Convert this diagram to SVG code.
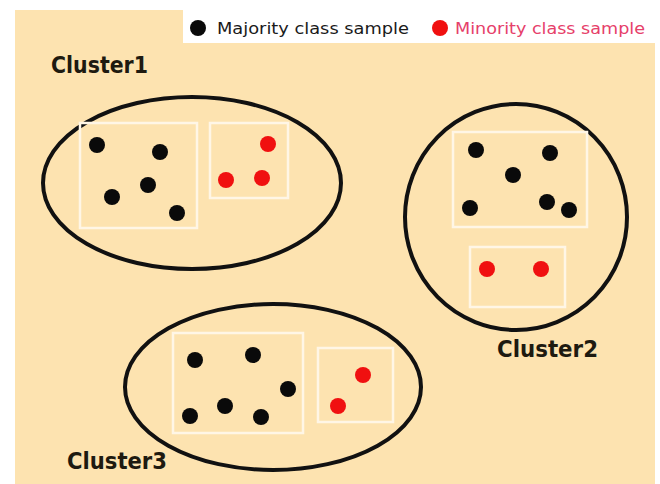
<svg xmlns="http://www.w3.org/2000/svg" width="660" height="484" viewBox="0 0 660 484">
<style>
.bg{fill:#fde3b0}
.cl{fill:none;stroke:#111;stroke-width:4}
.box{fill:none;stroke:#fff6e6;stroke-width:2.5}
.maj{fill:#0a0a0a}
.min{fill:#f01010}
.lbl{font-family:"DejaVu Sans",sans-serif;font-weight:bold;font-size:23px;fill:#1e1a10}
.leg{font-family:"DejaVu Sans",sans-serif;font-size:16px;font-weight:500}
</style>
<rect x="0" y="0" width="660" height="484" fill="#ffffff"/>
<rect class="bg" x="15" y="10" width="640" height="474"/>
<g id="legend">
<rect x="183" y="10" width="472" height="33" fill="#ffffff"/>
<circle class="maj" cx="198" cy="28" r="8"/>
<text class="leg" x="217" y="34" textLength="192" lengthAdjust="spacingAndGlyphs" fill="#1a1a1a">Majority class sample</text>
<circle class="min" cx="440" cy="28" r="8"/>
<text class="leg" x="455" y="34" textLength="190" lengthAdjust="spacingAndGlyphs" fill="#e6406a">Minority class sample</text>
</g>
<g id="cluster1">
<text class="lbl" x="51" y="73" textLength="97" lengthAdjust="spacingAndGlyphs">Cluster1</text>
<ellipse class="cl" cx="192" cy="183" rx="149" ry="86"/>
<rect class="box" x="80" y="123" width="117" height="105"/>
<rect class="box" x="210" y="123" width="78" height="75"/>
<circle class="maj" cx="97" cy="145" r="8"/>
<circle class="maj" cx="160" cy="152" r="8"/>
<circle class="maj" cx="148" cy="185" r="8"/>
<circle class="maj" cx="112" cy="197" r="8"/>
<circle class="maj" cx="177" cy="213" r="8"/>
<circle class="min" cx="268" cy="144" r="8"/>
<circle class="min" cx="226" cy="180" r="8"/>
<circle class="min" cx="262" cy="178" r="8"/>
</g>
<g id="cluster2">
<ellipse class="cl" cx="516" cy="217" rx="111" ry="113"/>
<rect class="box" x="453" y="132" width="134" height="95"/>
<rect class="box" x="470" y="247" width="95" height="60"/>
<circle class="maj" cx="476" cy="150" r="8"/>
<circle class="maj" cx="550" cy="153" r="8"/>
<circle class="maj" cx="513" cy="175" r="8"/>
<circle class="maj" cx="470" cy="208" r="8"/>
<circle class="maj" cx="547" cy="202" r="8"/>
<circle class="maj" cx="569" cy="210" r="8"/>
<circle class="min" cx="487" cy="269" r="8"/>
<circle class="min" cx="541" cy="269" r="8"/>
<text class="lbl" x="497" y="357" textLength="101" lengthAdjust="spacingAndGlyphs">Cluster2</text>
</g>
<g id="cluster3">
<ellipse class="cl" cx="273" cy="387" rx="148" ry="83"/>
<rect class="box" x="173" y="333" width="130" height="100"/>
<rect class="box" x="318" y="348" width="75" height="74"/>
<circle class="maj" cx="195" cy="360" r="8"/>
<circle class="maj" cx="253" cy="355" r="8"/>
<circle class="maj" cx="288" cy="389" r="8"/>
<circle class="maj" cx="190" cy="416" r="8"/>
<circle class="maj" cx="225" cy="406" r="8"/>
<circle class="maj" cx="261" cy="417" r="8"/>
<circle class="min" cx="363" cy="375" r="8"/>
<circle class="min" cx="338" cy="406" r="8"/>
<text class="lbl" x="67" y="469" textLength="100" lengthAdjust="spacingAndGlyphs">Cluster3</text>
</g>
<g id="connectors"></g>
</svg>
